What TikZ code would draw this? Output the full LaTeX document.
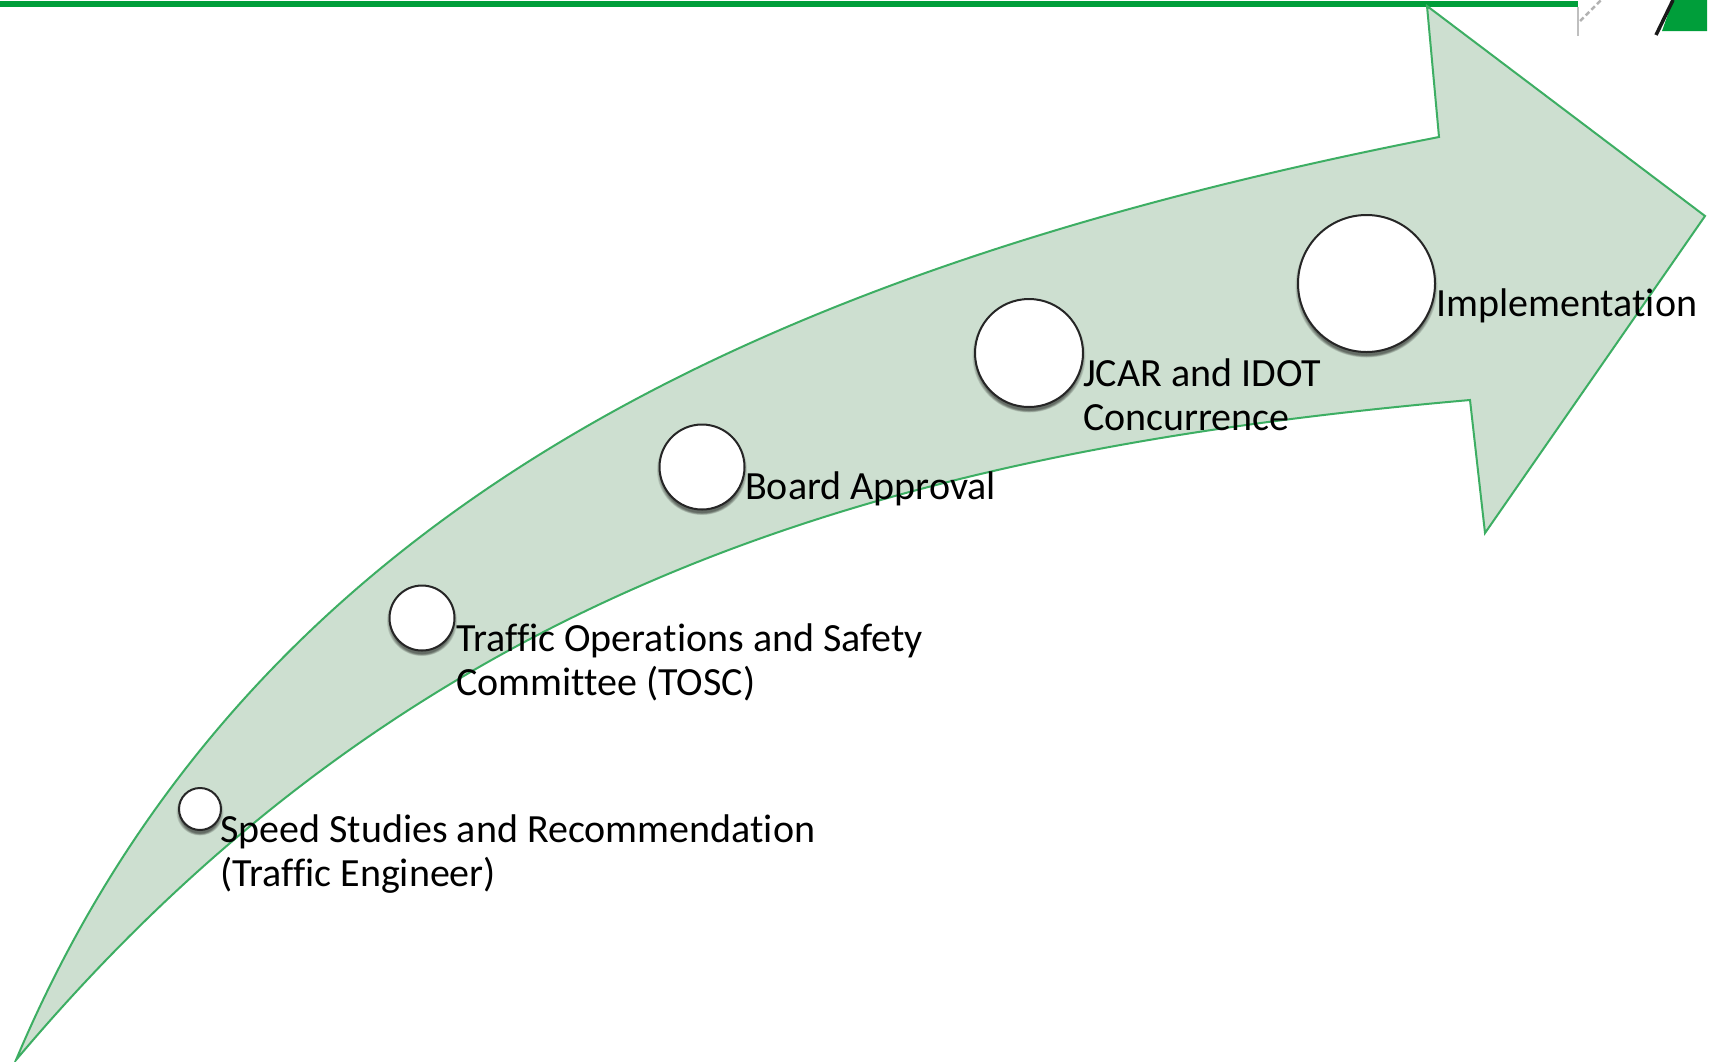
\documentclass[tikz,border=0pt]{standalone}
\usepackage{fontspec}
\setmainfont[Ligatures=CommonOff]{Carlito}
\definecolor{arrowfill}{HTML}{CDDFD0}
\definecolor{arrowline}{HTML}{3DAE63}
\definecolor{topgreen}{HTML}{009E3A}
\tikzset{
  stepcirc/.style={circle,draw=black!85,line width=2pt,fill=white,inner sep=0pt},
  lab/.style={anchor=base west,inner sep=0pt,align=left,font=\fontsize{40}{44}\selectfont,text=black},
  shadowc/.style={fill=black,fill opacity=0.11,draw=none}
}
\newcommand{\shadowcirc}[3]{%
  \foreach \d in {0,1,2,3,4,5}{\fill[shadowc] (#1,#2+3+0.5*\d) circle ({#3+2.5-\d*0.9});}
  }
\begin{document}
\begin{tikzpicture}[x=1pt,y=-1pt]
\useasboundingbox (0,0) rectangle (1715,1061);
\fill[white] (0,0) rectangle (1715,1061);
% top decoration
\fill[topgreen] (0,1) rectangle (1578,7);
\draw[black!25,line width=1.5pt] (1578,7) -- (1578,36);
\draw[black!30,line width=2.5pt,dash pattern=on 5pt off 3pt] (1580,21) -- (1601,0);
\fill[topgreen] (1662,31) -- (1673,0) -- (1707,0) -- (1707,31) -- cycle;
\draw[black!90,line width=3.5pt] (1656,35) -- (1673,0);
% arrow
\draw[fill=arrowfill,draw=arrowline,line width=2pt,line join=miter]
  (16,1060) .. controls (250,505) and (770,268) .. (1439,137)
  -- (1427,6) -- (1705,216) -- (1485,533) -- (1470,400)
  .. controls (900,450) and (420,580) .. (16,1060) -- cycle;
% circles
\shadowcirc{200}{809}{21}
\shadowcirc{422}{618}{32.5}
\shadowcirc{702}{467}{42.5}
\shadowcirc{1029}{353}{54}
\shadowcirc{1366.5}{283.5}{68.5}
\node[stepcirc,minimum size=42pt] (c1) at (200,809) {};
\node[stepcirc,minimum size=65pt] (c2) at (422,618) {};
\node[stepcirc,minimum size=85pt] (c3) at (702,467) {};
\node[stepcirc,minimum size=108pt] (c4) at (1029,353) {};
\node[stepcirc,minimum size=137pt] (c5) at (1366.5,283.5) {};
% labels
\node[lab] (t1) at (220,886) {Speed Studies and Recommendation\\(Traffic Engineer)};
\node[lab] (t2) at (456,695) {Traffic Operations and Safety\\Committee (TOSC)};
\node[lab] (t3) at (745,499) {Board Approval};
\node[lab] (t4) at (1083,430) {JCAR and IDOT\\Concurrence};
\node[lab] (t5) at (1436,316) {Implementation};
\end{tikzpicture}
\end{document}
